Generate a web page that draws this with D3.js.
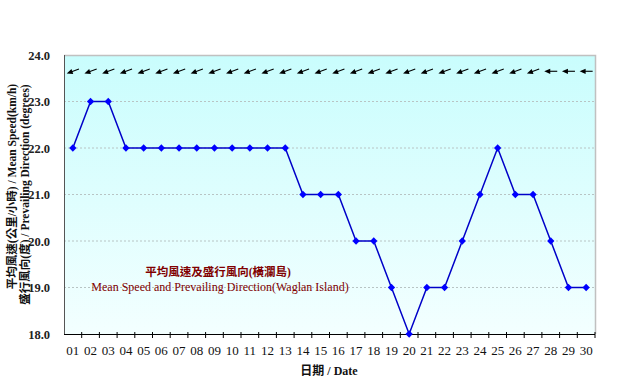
<!DOCTYPE html>
<html>
<head>
<meta charset="utf-8">
<script src="https://cdnjs.cloudflare.com/ajax/libs/d3/7.8.5/d3.min.js"></script>
<style>
  html, body { margin: 0; padding: 0; background: #ffffff; }
  svg { display: block; }
</style>
</head>
<body>
<svg id="chart" width="630" height="386"></svg>
<script>
const days = ["01","02","03","04","05","06","07","08","09","10","11","12","13","14","15","16","17","18","19","20","21","22","23","24","25","26","27","28","29","30"];
const meanSpeed = [22,23,23,22,22,22,22,22,22,22,22,22,22,21,21,21,20,20,19,18,19,19,20,21,22,21,21,20,19,19];
const prevailingDir = [70,70,70,70,70,70,70,70,70,70,70,70,70,70,70,70,70,70,70,70,70,70,70,70,70,70,70,90,90,90];
const yTicks = [18,19,20,21,22,23,24];
const yDomain = [18,24];
const arrowLevel = 23.65;

const svg = d3.select("#chart");
const L = 64, R = 595, T = 55, B = 334;
const serif = "'Liberation Serif','Times New Roman',serif";
const cjk = "'Liberation Serif','Noto Sans CJK TC',serif";

const x = d3.scaleBand().domain(days).range([L, R]).paddingInner(0).paddingOuter(0);
const y = d3.scaleLinear().domain(yDomain).range([B, T]);
const cx = d => x(d) + x.bandwidth() / 2;

// background gradient
const defs = svg.append("defs");
const grad = defs.append("linearGradient").attr("id", "bg").attr("x1", 0).attr("y1", 0).attr("x2", 0).attr("y2", 1);
grad.append("stop").attr("offset", "0%").attr("stop-color", "#c9fdfd");
grad.append("stop").attr("offset", "100%").attr("stop-color", "#f3ffff");

svg.append("rect").attr("x", L).attr("y", T).attr("width", R - L).attr("height", B - T).attr("fill", "url(#bg)");

// gridlines
svg.append("g").selectAll("line").data(yTicks.filter(v => v > yDomain[0] && v < yDomain[1])).join("line")
  .attr("x1", L).attr("x2", R).attr("y1", d => y(d)).attr("y2", d => y(d))
  .attr("stroke", "#b8c4c4").attr("stroke-width", 1).attr("stroke-dasharray", "2,2");

// border top/right
svg.append("path").attr("d", `M${L},${T + 0.5}H${R + 0.5}V${B}`).attr("fill", "none").attr("stroke", "#c0c0c0").attr("stroke-width", 1.5);
// left axis line
svg.append("line").attr("x1", L + 0.5).attr("x2", L + 0.5).attr("y1", T).attr("y2", B).attr("stroke", "#555").attr("stroke-width", 1);

// y axis labels
const yAxis = d3.axisLeft(y).tickValues(yTicks).tickFormat(d3.format(".1f")).tickSize(0).tickPadding(14);
const gy = svg.append("g").attr("transform", `translate(${L},0)`).call(yAxis);
gy.select(".domain").remove();
gy.selectAll("text").attr("font-family", serif).attr("font-size", 12.5).attr("font-weight", "bold").attr("fill", "#222");

// x axis
const xAxis = d3.axisBottom(x).tickSize(0).tickPadding(12);
const gx = svg.append("g").attr("transform", `translate(0,${B})`).call(xAxis);
gx.select(".domain").remove();
gx.selectAll("text").attr("font-family", serif).attr("font-size", 13).attr("fill", "#111");
svg.append("line").attr("x1", L).attr("x2", R).attr("y1", B + 0.5).attr("y2", B + 0.5).attr("stroke", "#000").attr("stroke-width", 1.2);
svg.append("g").selectAll("line").data(days.slice(1).concat(["end"])).join("line")
  .attr("x1", d => d === "end" ? R : x(d)).attr("x2", d => d === "end" ? R : x(d))
  .attr("y1", B - 2).attr("y2", B + 4).attr("stroke", "#000").attr("stroke-width", 1);

// wind direction arrows
const arrowLen = 13;
const ag = svg.append("g");
prevailingDir.forEach((dir, i) => {
  const b = (dir + 180) * Math.PI / 180;
  const ux = Math.sin(b), uy = -Math.cos(b);
  const px = cx(days[i]), py = y(arrowLevel);
  const x0 = px - ux * arrowLen / 2, y0 = py - uy * arrowLen / 2;
  const x1 = px + ux * arrowLen / 2, y1 = py + uy * arrowLen / 2;
  ag.append("line").attr("x1", x0).attr("y1", y0).attr("x2", x1 - ux * 3).attr("y2", y1 - uy * 3)
    .attr("stroke", "#000").attr("stroke-width", 1.1);
  const hl = 6, hw = 2.6;
  const bx = x1 - ux * hl, by = y1 - uy * hl;
  const nx = -uy, ny = ux;
  ag.append("path").attr("d", `M${x1},${y1}L${bx + nx * hw},${by + ny * hw}L${bx - nx * hw},${by - ny * hw}Z`).attr("fill", "#000");
});

// series line
const line = d3.line().x((d, i) => cx(days[i])).y(d => y(d));
svg.append("path").datum(meanSpeed).attr("d", line).attr("fill", "none").attr("stroke", "#0000c8").attr("stroke-width", 1.5);
svg.append("g").selectAll("path").data(meanSpeed).join("path")
  .attr("d", d3.symbol().type(d3.symbolDiamond2).size(34))
  .attr("transform", (d, i) => `translate(${cx(days[i])},${y(d)})`)
  .attr("fill", "#0000ff");

// legend text
const lg = svg.append("g").attr("font-family", cjk).attr("fill", "#800000").attr("text-anchor", "middle");
lg.append("text").attr("x", 218).attr("y", 276).attr("font-size", 11.5).attr("font-weight", "bold").text("平均風速及盛行風向(橫瀾島)");
lg.append("text").attr("x", 220).attr("y", 291).attr("font-size", 12).text("Mean Speed and Prevailing Direction(Waglan Island)");

// axis titles
const yt = svg.append("g").attr("font-family", cjk).attr("font-size", 11.5).attr("font-weight", "bold").attr("fill", "#111").attr("text-anchor", "middle");
yt.append("text").attr("transform", `translate(16,${(T + B) / 2 - 8}) rotate(-90)`).text("平均風速(公里/小時) / Mean Speed(km/h)");
yt.append("text").attr("transform", `translate(29,${(T + B) / 2}) rotate(-90)`).text("盛行風向(度) / Prevailing Direction (degrees)");

svg.append("text").attr("x", 329).attr("y", 375).attr("text-anchor", "middle").attr("font-family", cjk)
  .attr("font-size", 12).attr("font-weight", "bold").attr("fill", "#111").text("日期 / Date");
</script>
</body>
</html>
